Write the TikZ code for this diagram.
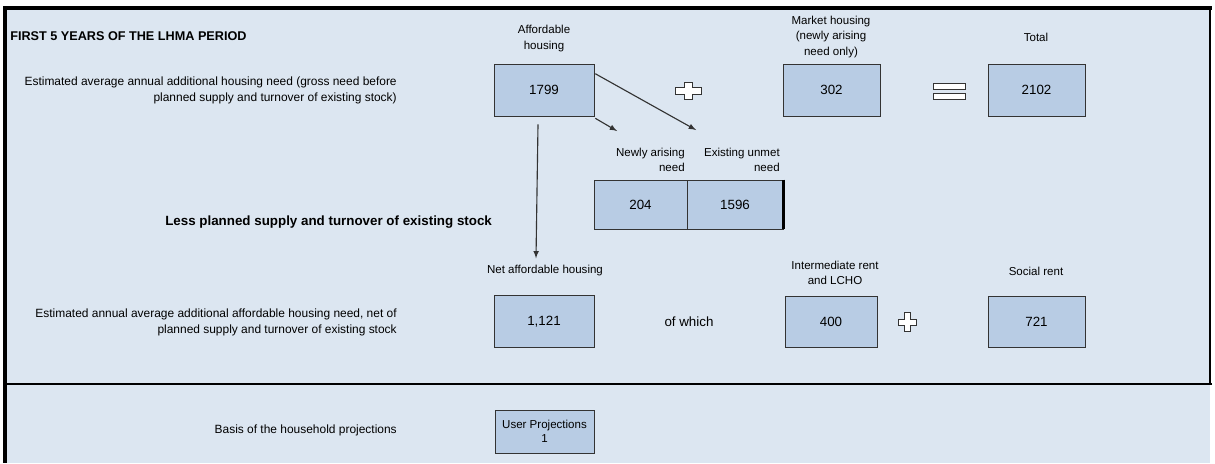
\documentclass[tikz,border=0pt]{standalone}
\usepackage{fontspec}
\setmainfont{Liberation Sans}
\usetikzlibrary{calc}
\definecolor{panelblue}{HTML}{DCE6F1}
\definecolor{boxblue}{HTML}{B8CCE4}
\definecolor{edgegrey}{HTML}{333333}
\tikzset{
  numbox/.style={draw=edgegrey,fill=boxblue,inner sep=0pt,minimum width=2.5cm,minimum height=1.3cm,font=\fontsize{9.5}{11}\selectfont},
  lbl/.style={font=\fontsize{8.2}{11}\selectfont,align=center,inner sep=0pt},
  rlbl/.style={font=\fontsize{8.2}{11}\selectfont,align=right,inner sep=0pt},
  desclbl/.style={font=\fontsize{8.5}{11.4}\selectfont,align=right,inner sep=0pt,anchor=east},
}
\begin{document}
\begin{tikzpicture}[x=0.025cm,y=-0.025cm]
            \useasboundingbox (0,0) rectangle (1215,463);
            % panel and frame
            \fill[panelblue] (5,8) rectangle (1210,463);
            \draw[line width=1.2mm] (3,8) -- (1212,8);
            \draw[line width=1mm] (5,6) -- (5,463);
            \draw[line width=0.4mm] (1210,8) -- (1210,384);
            \draw[line width=0.7mm] (5,384) -- (1212,384);
            % top row
            \node[font=\bfseries\fontsize{9}{10}\selectfont,anchor=west,inner sep=0pt] (title) at (10,36) {FIRST 5 YEARS OF THE LHMA PERIOD};
            \node[desclbl] (grosslbl) at (397,90) {Estimated average annual additional housing need (gross need before\\planned supply and turnover of existing stock)};
            \node[numbox] (aff) at (544,90) {1799};
            \node[numbox,minimum width=2.425cm] (mkt) at (831.5,90) {302};
            \node[numbox,minimum width=2.425cm] (tot) at (1036.5,90) {2102};
            \node[lbl,anchor=south] (afflbl) at (544,52) {Affordable\\housing};
            \node[lbl,anchor=south] (mktlbl) at (831,58) {Market housing\\(newly arising\\need only)};
            \node[lbl] (totlbl) at (1036,37) {Total};
            % plus and equals
            \filldraw[fill=white,draw=edgegrey,line width=0.5pt] (684,82) -- (692,82) -- (692,87) -- (701,87) -- (701,94) -- (692,94) -- (692,99) -- (684,99) -- (684,94) -- (675,94) -- (675,87) -- (684,87) -- cycle;
            \filldraw[fill=white,draw=edgegrey,line width=0.5pt] (933,83) rectangle (965,89);
            \filldraw[fill=white,draw=edgegrey,line width=0.5pt] (933,93) rectangle (965,99);
            % split of affordable need
            \node[numbox,minimum width=2.325cm,minimum height=1.225cm] (newneed) at (640.5,204.5) {204};
            \node[numbox,minimum width=2.4cm,minimum height=1.225cm] (unmet) at (735,204.5) {1596};
            \draw[line width=0.6mm] (unmet.north east) -- (unmet.south east);
            \node[rlbl,anchor=south east] (newlbl) at (685,172) {Newly arising\\need};
            \node[rlbl,anchor=south east] (unmetlbl) at (780,172) {Existing unmet\\need};
            \node[font=\bfseries\fontsize{9.5}{11}\selectfont,anchor=west,inner sep=0pt] (less) at (165,222) {Less planned supply and turnover of existing stock};
            % second row
            \node[lbl] (netlbl) at (545,271) {Net affordable housing};
            \node[desclbl] (netdesc) at (397,322) {Estimated annual average additional affordable housing need, net of\\planned supply and turnover of existing stock};
            \node[numbox] (net) at (544,321.5) {1,121};
            \node[font=\fontsize{9.5}{10}\selectfont,inner sep=0pt] (ofwhich) at (689,322) {of which};
            \node[numbox,minimum width=2.3cm,minimum height=1.275cm] (inter) at (831,321.5) {400};
            \node[numbox,minimum width=2.425cm,minimum height=1.275cm] (social) at (1036.5,321.5) {721};
            \node[lbl,anchor=south] (interlbl) at (835,285) {Intermediate rent\\and LCHO};
            \node[lbl] (sociallbl) at (1036,271) {Social rent};
            \filldraw[fill=white,draw=edgegrey,line width=0.5pt] (904,312) -- (910,312) -- (910,319) -- (916,319) -- (916,325) -- (910,325) -- (910,331) -- (904,331) -- (904,325) -- (898,325) -- (898,319) -- (904,319) -- cycle;
            % arrows
            \coordinate (newtip) at (617,131);
            \coordinate (unmettip) at (696,130);
            \draw[->,>=latex,edgegrey,thick] ($(aff.south)+(-6,8)$) -- ($(netlbl.north)+(-9,-7)$);
            \draw[->,>=latex,edgegrey,thick] ($(aff.south east)+(1,2)$) -- (newtip);
            \draw[->,>=latex,edgegrey,thick] ($(aff.north east)+(1,10)$) -- (unmettip);
            % bottom panel
            \node[desclbl] (basislbl) at (397,430) {Basis of the household projections};
            \node[numbox,minimum width=2.475cm,minimum height=1.075cm,font=\fontsize{8.2}{10}\selectfont,align=center] (proj) at (544.5,431.5) {User Projections\\1};
\end{tikzpicture}
\end{document}
